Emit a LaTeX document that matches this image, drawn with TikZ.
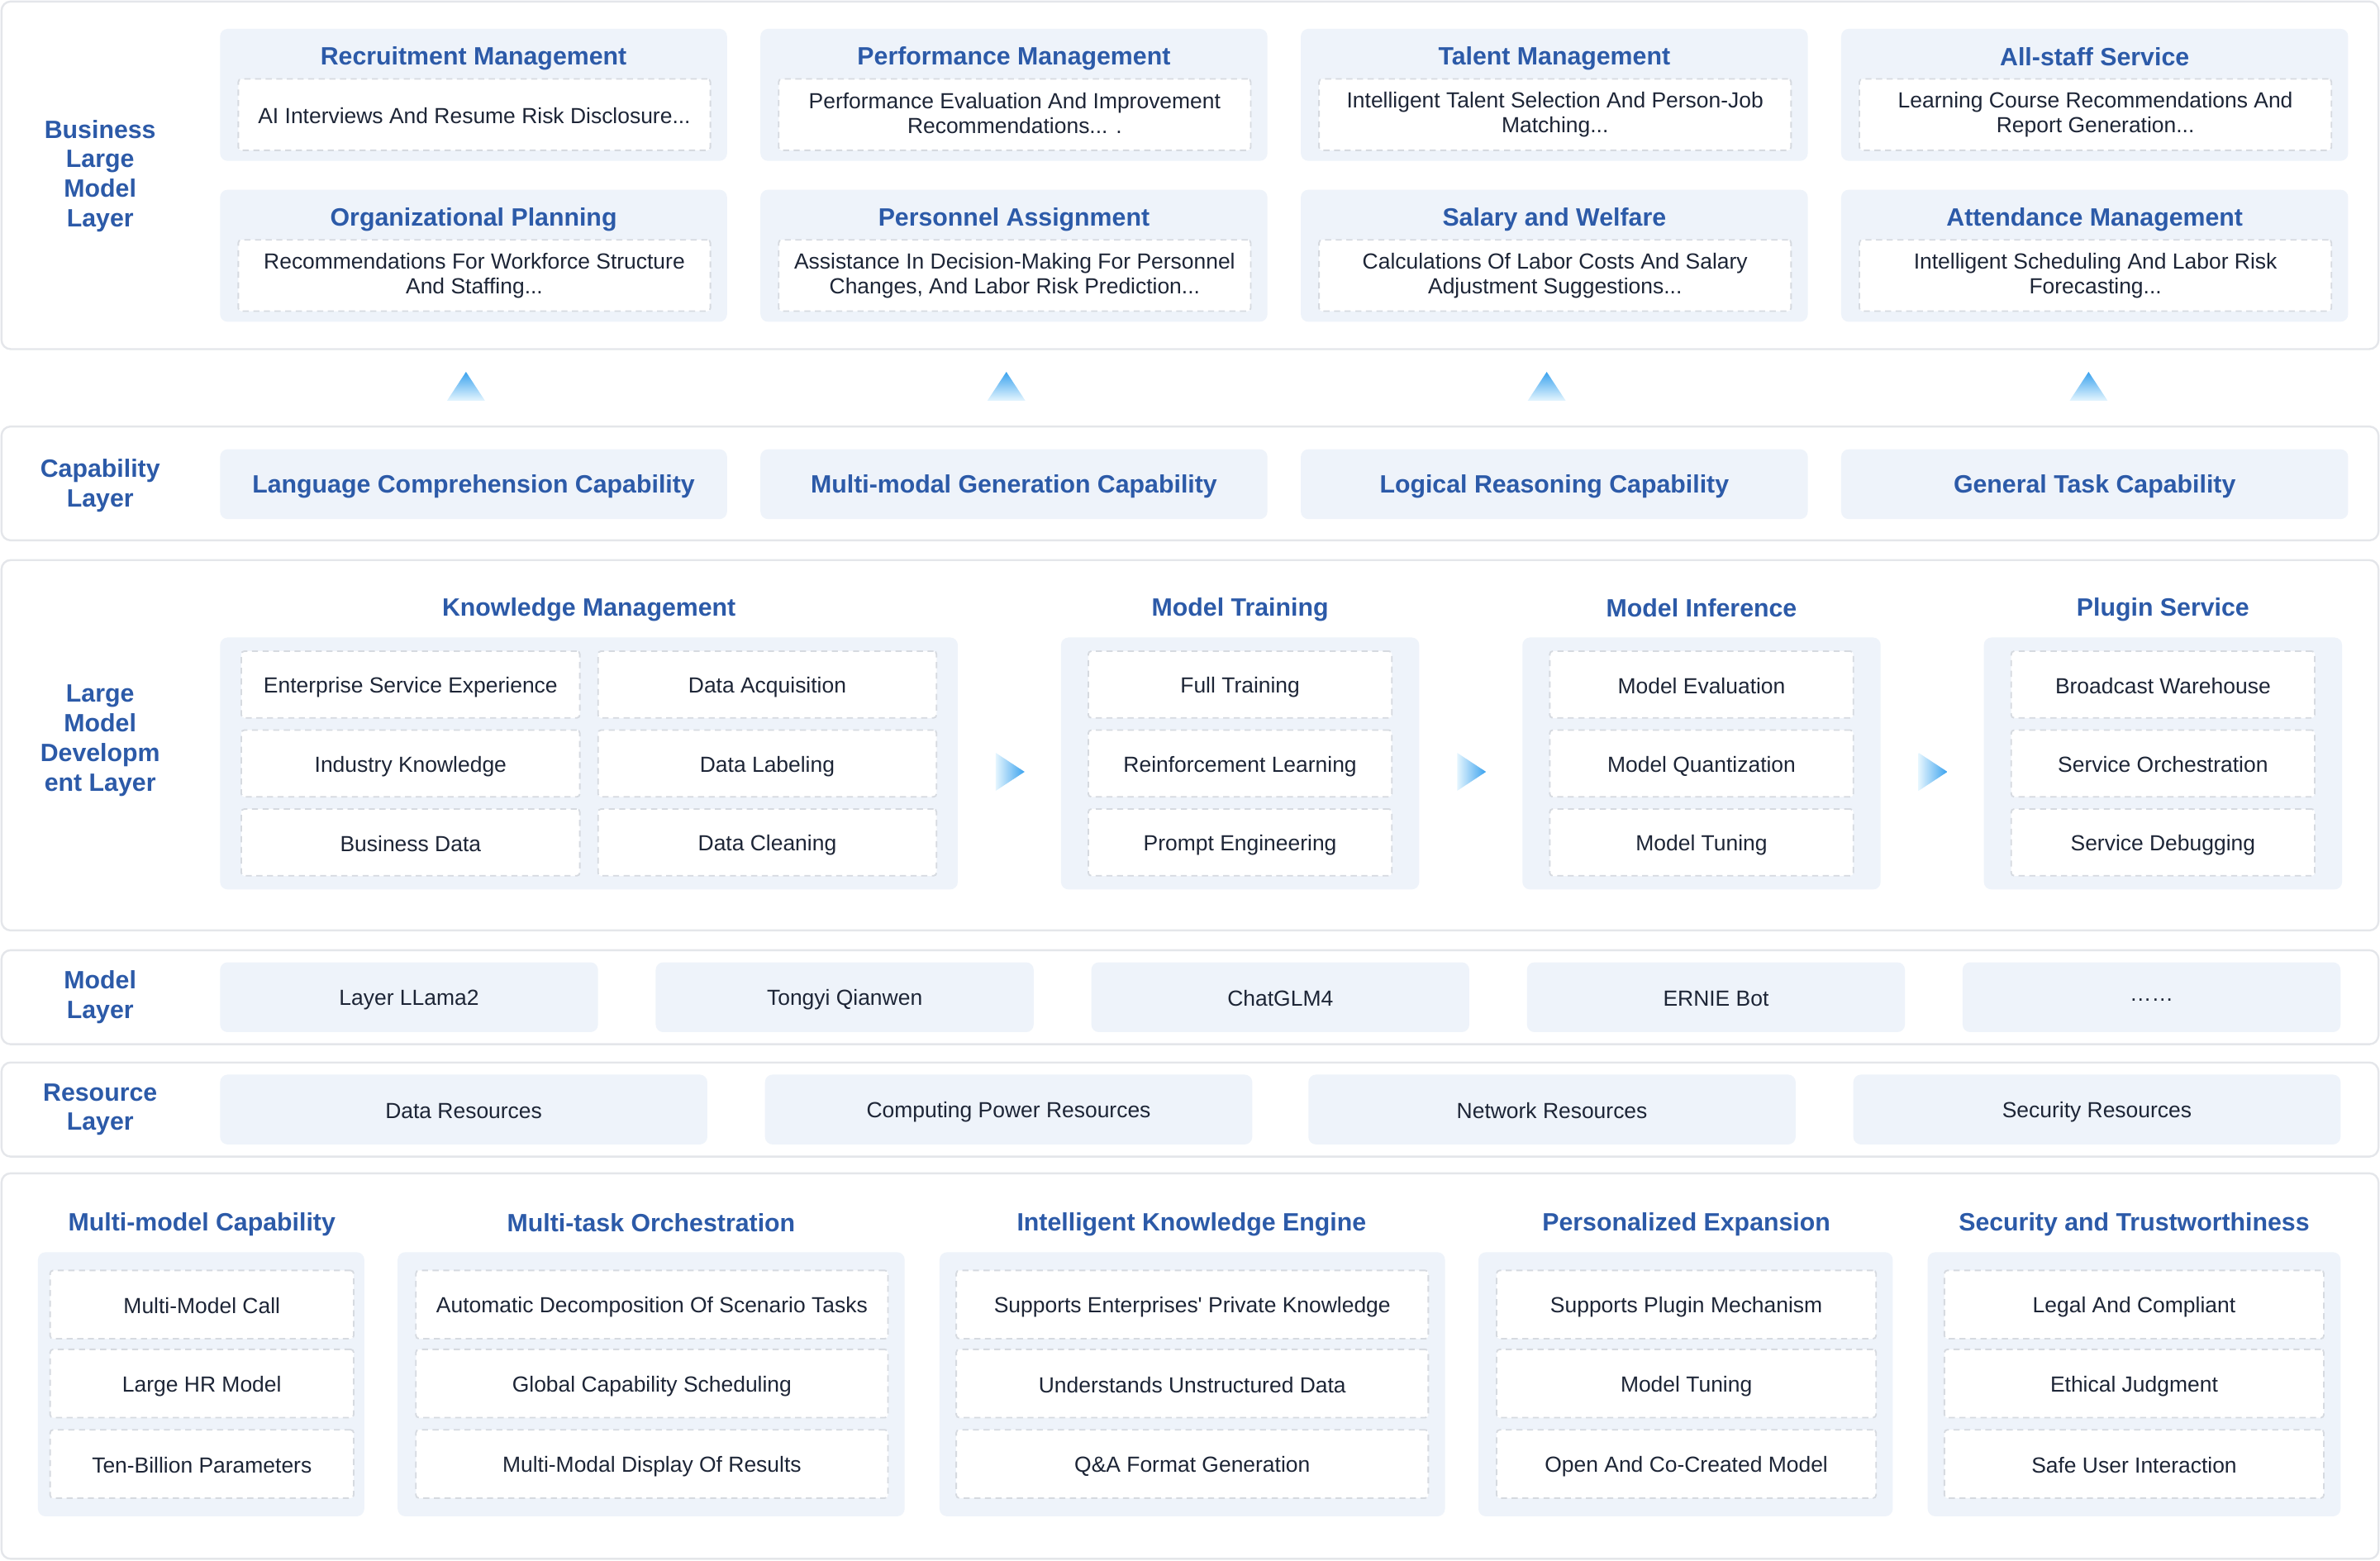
\documentclass[tikz,border=0pt]{standalone}
\usepackage{fontspec}
\setmainfont{Liberation Sans}
\definecolor{outerline}{HTML}{E4E6EA}
\definecolor{cardfill}{HTML}{EEF3FA}
\definecolor{dashline}{HTML}{D6DAE0}
\definecolor{titleblue}{HTML}{2C5AA8}
\definecolor{bodytext}{HTML}{1D2536}
\definecolor{arrtop}{HTML}{3AA2EE}
\definecolor{arrbot}{HTML}{E4F5FE}
\newcommand\ttlstrut{\rule[-2pt]{0pt}{17pt}}
\newcommand\bodystrut{\rule[-2pt]{0pt}{16pt}}
\tikzset{
 outerbox/.style={draw=outerline, line width=1.3pt, fill=white, rounded corners=6pt},
 cardbox/.style={fill=cardfill, rounded corners=5pt},
 dbox/.style={draw=dashline, line width=1pt, dash pattern=on 4pt off 3pt, fill=white, rounded corners=2pt},
 ttl/.style={text=titleblue, font=\bfseries\fontsize{16.5}{19.5}\selectfont, align=center, inner sep=0pt,
   execute at begin node=\ttlstrut, execute at end node=\ttlstrut},
 bodytxt/.style={text=bodytext, font=\fontsize{14.4}{16.5}\selectfont, align=center,
   execute at begin node=\bodystrut, execute at end node=\bodystrut},
}
\newcommand\bx[7]{\node[#1, inner sep=0pt, minimum width={(#4-#2)*1pt}, minimum height={(#5-#3)*1pt}] (#6) at ({(#2+#4)/2},{(#3+#5)/2}) {#7};}
\newcommand\uparr[2]{\shade[top color=arrtop, bottom color=arrbot] (#1-12.5,#2+9.5) -- (#1,#2-9.5) -- (#1+12.5,#2+9.5) -- cycle;}
\newcommand\rtarr[2]{\shade[left color=arrbot, right color=arrtop] (#1-9.5,#2-12.5) -- (#1+9.5,#2) -- (#1-9.5,#2+12.5) -- cycle;}
\begin{document}
\begin{tikzpicture}[x=1pt,y=-1pt]
\useasboundingbox (0,0) rectangle (1568,1028);
% ---------- outer layer frames
\bx{outerbox}{1}{1}{1567}{230}{Lbiz}{}
\bx{outerbox}{1}{281}{1567}{356}{Lcap}{}
\bx{outerbox}{1}{369}{1567}{613}{Ldev}{}
\bx{outerbox}{1}{626}{1567}{688}{Lmod}{}
\bx{outerbox}{1}{700}{1567}{762}{Lres}{}
\bx{outerbox}{1}{773}{1567}{1027}{Lbot}{}
% ---------- layer labels
\node[ttl] (tbiz) at (66,116) {Business\\Large\\Model\\Layer};
\node[ttl] (tcap) at (66,320) {Capability\\Layer};
\node[ttl] (tdev) at (66,488) {Large\\Model\\Developm\\ent Layer};
\node[ttl] (tmod) at (66,657) {Model\\Layer};
\node[ttl] (tres) at (66,731) {Resource\\Layer};
% ---------- business layer
\bx{cardbox}{145}{19}{479}{106}{b1}{}
\node[ttl] (b1t) at (312,37) {Recruitment Management};
\bx{dbox,bodytxt}{157}{52}{468}{99}{b1d}{AI Interviews And Resume Risk Disclosure...}
\bx{cardbox}{501}{19}{835}{106}{b2}{}
\node[ttl] (b2t) at (668,37) {Performance Management};
\bx{dbox,bodytxt}{513}{52}{824}{99}{b2d}{Performance Evaluation And Improvement\\Recommendations... .}
\bx{cardbox}{857}{19}{1191}{106}{b3}{}
\node[ttl] (b3t) at (1024,37) {Talent Management};
\bx{dbox,bodytxt}{869}{52}{1180}{99}{b3d}{Intelligent Talent Selection And Person-Job\\Matching...}
\bx{cardbox}{1213}{19}{1547}{106}{b4}{}
\node[ttl] (b4t) at (1380,37) {All-staff Service};
\bx{dbox,bodytxt}{1225}{52}{1536}{99}{b4d}{Learning Course Recommendations And\\Report Generation...}
\bx{cardbox}{145}{125}{479}{212}{b5}{}
\node[ttl] (b5t) at (312,143) {Organizational Planning};
\bx{dbox,bodytxt}{157}{158}{468}{205}{b5d}{Recommendations For Workforce Structure\\And Staffing...}
\bx{cardbox}{501}{125}{835}{212}{b6}{}
\node[ttl] (b6t) at (668,143) {Personnel Assignment};
\bx{dbox,bodytxt}{513}{158}{824}{205}{b6d}{Assistance In Decision-Making For Personnel\\Changes, And Labor Risk Prediction...}
\bx{cardbox}{857}{125}{1191}{212}{b7}{}
\node[ttl] (b7t) at (1024,143) {Salary and Welfare};
\bx{dbox,bodytxt}{869}{158}{1180}{205}{b7d}{Calculations Of Labor Costs And Salary\\Adjustment Suggestions...}
\bx{cardbox}{1213}{125}{1547}{212}{b8}{}
\node[ttl] (b8t) at (1380,143) {Attendance Management};
\bx{dbox,bodytxt}{1225}{158}{1536}{205}{b8d}{Intelligent Scheduling And Labor Risk\\Forecasting...}
% ---------- up arrows
\uparr{307}{254.5}
\uparr{663}{254.5}
\uparr{1019}{254.5}
\uparr{1376}{254.5}
% ---------- capability layer
\bx{cardbox,ttl}{145}{296}{479}{342}{c1}{Language Comprehension Capability}
\bx{cardbox,ttl}{501}{296}{835}{342}{c2}{Multi-modal Generation Capability}
\bx{cardbox,ttl}{857}{296}{1191}{342}{c3}{Logical Reasoning Capability}
\bx{cardbox,ttl}{1213}{296}{1547}{342}{c4}{General Task Capability}
% ---------- development layer
\node[ttl] (gkm) at (388,400) {Knowledge Management};
\node[ttl] (gmt) at (817,400) {Model Training};
\node[ttl] (gmi) at (1121,400) {Model Inference};
\node[ttl] (gps) at (1425,400) {Plugin Service};
\bx{cardbox}{145}{420}{631}{586}{km}{}
\bx{dbox,bodytxt}{159}{429}{382}{473}{km1}{Enterprise Service Experience}
\bx{dbox,bodytxt}{159}{481}{382}{525}{km2}{Industry Knowledge}
\bx{dbox,bodytxt}{159}{533}{382}{577}{km3}{Business Data}
\bx{dbox,bodytxt}{394}{429}{617}{473}{km4}{Data Acquisition}
\bx{dbox,bodytxt}{394}{481}{617}{525}{km5}{Data Labeling}
\bx{dbox,bodytxt}{394}{533}{617}{577}{km6}{Data Cleaning}
\bx{cardbox}{699}{420}{935}{586}{mt}{}
\bx{dbox,bodytxt}{717}{429}{917}{473}{mt1}{Full Training}
\bx{dbox,bodytxt}{717}{481}{917}{525}{mt2}{Reinforcement Learning}
\bx{dbox,bodytxt}{717}{533}{917}{577}{mt3}{Prompt Engineering}
\bx{cardbox}{1003}{420}{1239}{586}{mi}{}
\bx{dbox,bodytxt}{1021}{429}{1221}{473}{mi1}{Model Evaluation}
\bx{dbox,bodytxt}{1021}{481}{1221}{525}{mi2}{Model Quantization}
\bx{dbox,bodytxt}{1021}{533}{1221}{577}{mi3}{Model Tuning}
\bx{cardbox}{1307}{420}{1543}{586}{ps}{}
\bx{dbox,bodytxt}{1325}{429}{1525}{473}{ps1}{Broadcast Warehouse}
\bx{dbox,bodytxt}{1325}{481}{1525}{525}{ps2}{Service Orchestration}
\bx{dbox,bodytxt}{1325}{533}{1525}{577}{ps3}{Service Debugging}
\rtarr{665.5}{508.5}
\rtarr{969.5}{508.5}
\rtarr{1273.5}{508.5}
% ---------- model layer
\bx{cardbox,bodytxt}{145}{634}{394}{680}{m1}{Layer LLama2}
\bx{cardbox,bodytxt}{432}{634}{681}{680}{m2}{Tongyi Qianwen}
\bx{cardbox,bodytxt}{719}{634}{968}{680}{m3}{ChatGLM4}
\bx{cardbox,bodytxt}{1006}{634}{1255}{680}{m4}{ERNIE Bot}
\bx{cardbox,bodytxt}{1293}{634}{1542}{680}{m5}{\raisebox{3.5pt}{\textellipsis\textellipsis}}
% ---------- resource layer
\bx{cardbox,bodytxt}{145}{708}{466}{754}{r1}{Data Resources}
\bx{cardbox,bodytxt}{504}{708}{825}{754}{r2}{Computing Power Resources}
\bx{cardbox,bodytxt}{862}{708}{1183}{754}{r3}{Network Resources}
\bx{cardbox,bodytxt}{1221}{708}{1542}{754}{r4}{Security Resources}
% ---------- bottom features
\node[ttl] (f1t) at (133,805) {Multi-model Capability};
\node[ttl] (f2t) at (429,805) {Multi-task Orchestration};
\node[ttl] (f3t) at (785,805) {Intelligent Knowledge Engine};
\node[ttl] (f4t) at (1111,805) {Personalized Expansion};
\node[ttl] (f5t) at (1406,805) {Security and Trustworthiness};
\bx{cardbox}{25}{825}{240}{999}{f1}{}
\bx{dbox,bodytxt}{33}{837}{233}{882}{f11}{Multi-Model Call}
\bx{dbox,bodytxt}{33}{889}{233}{934}{f12}{Large HR Model}
\bx{dbox,bodytxt}{33}{942}{233}{987}{f13}{Ten-Billion Parameters}
\bx{cardbox}{262}{825}{596}{999}{f2}{}
\bx{dbox,bodytxt}{274}{837}{585}{882}{f21}{Automatic Decomposition Of Scenario Tasks}
\bx{dbox,bodytxt}{274}{889}{585}{934}{f22}{Global Capability Scheduling}
\bx{dbox,bodytxt}{274}{942}{585}{987}{f23}{Multi-Modal Display Of Results}
\bx{cardbox}{619}{825}{952}{999}{f3}{}
\bx{dbox,bodytxt}{630}{837}{941}{882}{f31}{Supports Enterprises\textquotesingle\ Private Knowledge}
\bx{dbox,bodytxt}{630}{889}{941}{934}{f32}{Understands Unstructured Data}
\bx{dbox,bodytxt}{630}{942}{941}{987}{f33}{Q\&A Format Generation}
\bx{cardbox}{974}{825}{1247}{999}{f4}{}
\bx{dbox,bodytxt}{986}{837}{1236}{882}{f41}{Supports Plugin Mechanism}
\bx{dbox,bodytxt}{986}{889}{1236}{934}{f42}{Model Tuning}
\bx{dbox,bodytxt}{986}{942}{1236}{987}{f43}{Open And Co-Created Model}
\bx{cardbox}{1270}{825}{1542}{999}{f5}{}
\bx{dbox,bodytxt}{1281}{837}{1531}{882}{f51}{Legal And Compliant}
\bx{dbox,bodytxt}{1281}{889}{1531}{934}{f52}{Ethical Judgment}
\bx{dbox,bodytxt}{1281}{942}{1531}{987}{f53}{Safe User Interaction}
\end{tikzpicture}
\end{document}
